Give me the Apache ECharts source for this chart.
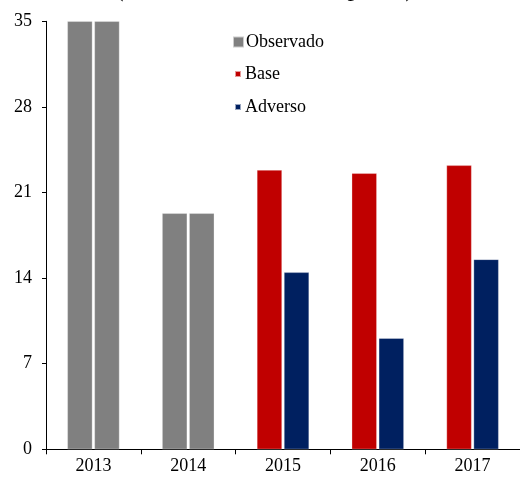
<!DOCTYPE html>
<html><head><meta charset="utf-8">
<script src="https://cdn.jsdelivr.net/npm/echarts@6/dist/echarts.min.js"></script>
<style>html,body{margin:0;padding:0;background:#fff}#c{width:520px;height:479px}</style>
</head><body><div id="c"></div>
<script>
var categories = ['2013','2014','2015','2016','2017'];
var observado = [35, 19.3, null, null, null];
var base = [null, null, 22.84, 22.57, 23.22];
var adverso = [null, null, 14.47, 9.08, 15.53];
var yTicks = [0, 7, 14, 21, 28, 35];
var titleText = '(Miles de millones de pesos)';

var FONT = '"Liberation Serif", "Times New Roman", serif';
function d(arr){ return arr.map(function(v){ return v == null ? '-' : v; }); }
var chart = echarts.init(document.getElementById('c'));
var common = {type:'bar', barGap:'8%', barCategoryGap:'45%', itemStyle:{borderColor:'rgba(255,255,255,0.6)', borderWidth:0.5}};
var ts = {fontFamily:FONT, fontSize:18, color:'#000'};
chart.setOption({
  animation:false,
  graphic:[{type:'text', left:115, top:-24, style:{text:titleText, font:'26px '+FONT, fill:'#000'}}],
  grid:{left:46, right:0, top:21.3, bottom:29.7},
  legend:[
    {data:['Observado'], left:227, top:28, itemWidth:11, itemHeight:11, itemGap:0, icon:'rect', textStyle:Object.assign({}, ts, {padding:[0,0,0,-3]})},
    {data:['Base'], left:229, top:60, itemWidth:6, itemHeight:6, icon:'rect', textStyle:Object.assign({}, ts, {padding:[0,0,0,-1]})},
    {data:['Adverso'], left:229, top:93, itemWidth:6, itemHeight:6, icon:'rect', textStyle:Object.assign({}, ts, {padding:[0,0,0,-1]})}
  ],
  xAxis:{type:'category', data:categories, axisLine:{lineStyle:{color:'#000', width:1}},
    axisTick:{show:true, length:5, lineStyle:{color:'#000'}}, axisLabel:Object.assign({}, ts, {margin:8})},
  yAxis:{type:'value', min:yTicks[0], max:yTicks[yTicks.length-1], interval:7, splitLine:{show:false},
    axisLine:{show:true, lineStyle:{color:'#000', width:1}},
    axisTick:{show:true, length:4, lineStyle:{color:'#000'}},
    axisLabel:Object.assign({}, ts, {margin:14})},
  series:[
    Object.assign({}, common, {name:'Observado', stack:'a', data:d(observado), itemStyle:Object.assign({}, common.itemStyle, {color:'#808080'})}),
    Object.assign({}, common, {name:'Observado', stack:'b', data:d(observado), itemStyle:Object.assign({}, common.itemStyle, {color:'#808080'})}),
    Object.assign({}, common, {name:'Base', stack:'a', data:d(base), itemStyle:Object.assign({}, common.itemStyle, {color:'#C00000'})}),
    Object.assign({}, common, {name:'Adverso', stack:'b', data:d(adverso), itemStyle:Object.assign({}, common.itemStyle, {color:'#002060'})})
  ]
});
</script></body></html>
